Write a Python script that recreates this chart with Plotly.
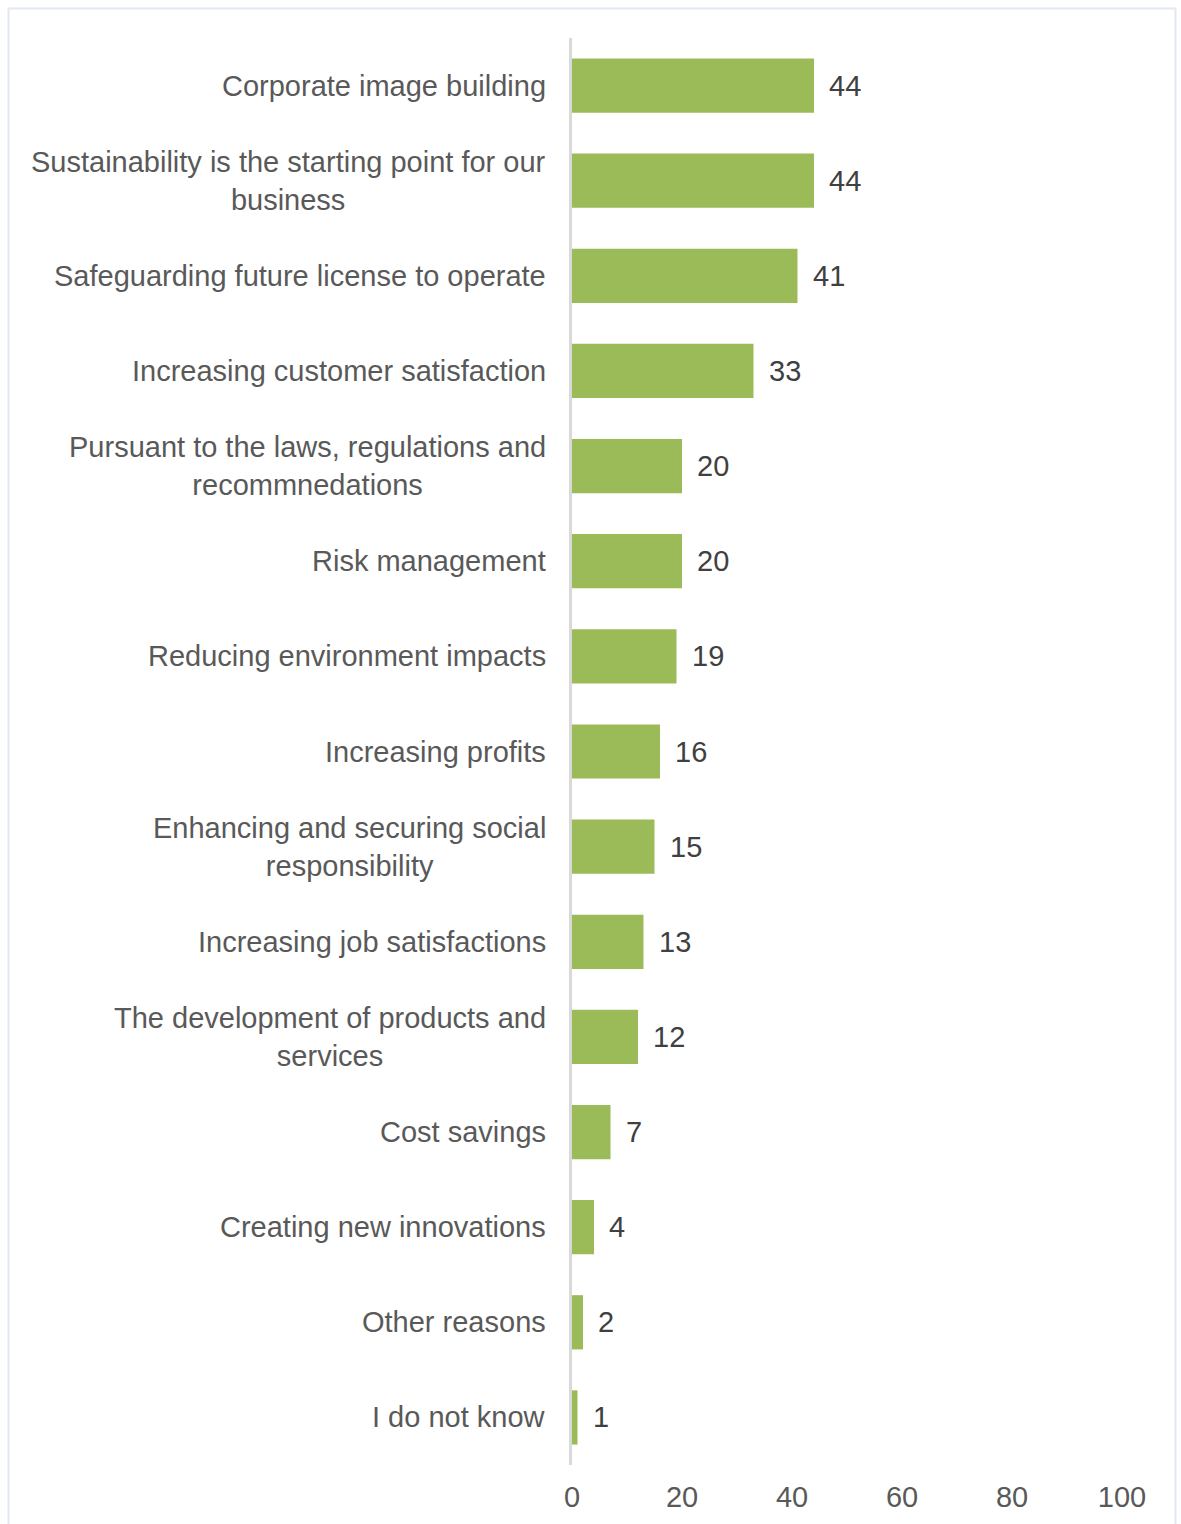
import plotly.graph_objects as go

# Reasons for sustainability work (share of respondents, %)
categories = [
    "Corporate image building",
    "Sustainability is the starting point for our<br>business",
    "Safeguarding future license to operate",
    "Increasing customer satisfaction",
    "Pursuant to the laws, regulations and<br>recommnedations",
    "Risk management",
    "Reducing environment impacts",
    "Increasing profits",
    "Enhancing and securing social<br>responsibility",
    "Increasing job satisfactions",
    "The development of products and<br>services",
    "Cost savings",
    "Creating new innovations",
    "Other reasons",
    "I do not know",
]
values = [44, 44, 41, 33, 20, 20, 19, 16, 15, 13, 12, 7, 4, 2, 1]
x_ticks = [0, 20, 40, 60, 80, 100]

FONT = "Liberation Sans, Arial, sans-serif"
LABEL_GRAY = "#595959"
VALUE_GRAY = "#404040"
BAR_GREEN = "#9BBB59"
FS = 29

W, H = 1181, 1524
ML, MR, MT, MB = 572, 59, 38, 59

fig = go.Figure(
    go.Bar(
        x=values,
        y=categories,
        orientation="h",
        marker=dict(color=BAR_GREEN, line=dict(width=0)),
        hoverinfo="x+y",
    )
)

annotations = []
# category labels, centred multi-line text right-aligned against the axis
for cat in categories:
    annotations.append(dict(
        x=0, xref="paper", y=cat, yref="y",
        text=cat, showarrow=False,
        xanchor="right", yanchor="middle", align="center",
        xshift=-24,
        font=dict(family=FONT, size=FS, color=LABEL_GRAY),
    ))
# value labels just past the end of each bar
for cat, v in zip(categories, values):
    annotations.append(dict(
        x=v, xref="x", y=cat, yref="y",
        text=str(v), showarrow=False,
        xanchor="left", yanchor="middle",
        xshift=13,
        font=dict(family=FONT, size=FS, color=VALUE_GRAY),
    ))

pw = W - ML - MR
ph = H - MT - MB

def px_x(p):
    return (p - ML) / pw

def px_y(p):
    return (H - MB - p) / ph

fig.update_layout(
    width=W, height=H,
    margin=dict(l=ML, r=MR, t=MT, b=MB),
    paper_bgcolor="white",
    plot_bgcolor="white",
    showlegend=False,
    bargap=0.43,
    font=dict(family=FONT, size=FS, color=LABEL_GRAY),
    xaxis=dict(
        range=[0, 100],
        tickvals=x_ticks,
        showgrid=False,
        zeroline=False,
        showline=False,
        ticks="",
        ticklabelstandoff=12,
        tickfont=dict(family=FONT, size=FS, color=LABEL_GRAY),
        fixedrange=True,
    ),
    yaxis=dict(
        type="category",
        categoryorder="array",
        categoryarray=categories,
        autorange="reversed",
        showticklabels=False,
        showgrid=False,
        zeroline=False,
        showline=True,
        linecolor="#D9D9D9",
        linewidth=3,
        ticks="",
        fixedrange=True,
    ),
    annotations=annotations,
    shapes=[
        dict(
            type="rect", xref="paper", yref="paper",
            x0=px_x(8.5), x1=px_x(1175.5),
            y0=px_y(1540), y1=px_y(8.5),
            line=dict(color="#E1E8F3", width=2),
            fillcolor="rgba(0,0,0,0)",
            layer="below",
        )
    ],
)

fig.write_html("out.html")
